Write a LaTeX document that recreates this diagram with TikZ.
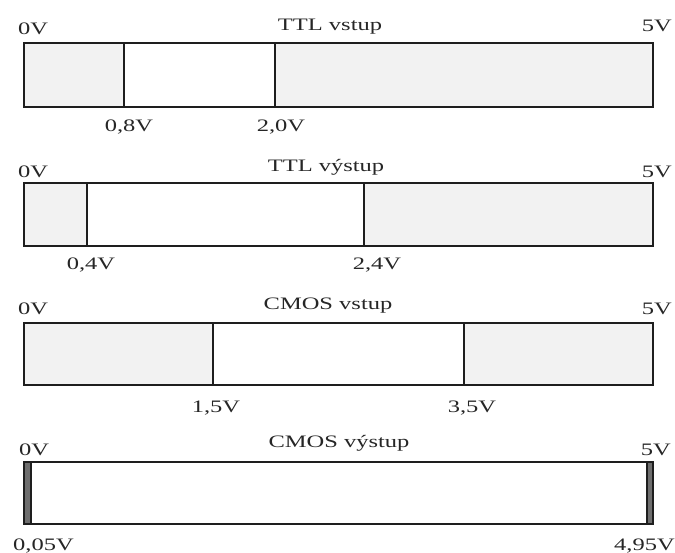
\documentclass[tikz,border=0pt]{standalone}
\usepackage{fontspec}
\setmainfont{Liberation Serif}
\definecolor{zone}{HTML}{F2F2F2}
\definecolor{strip}{HTML}{6E6E6E}
\definecolor{edge}{HTML}{1E1E1E}
\newcommand{\wtxt}[1]{\scalebox{1.4}[1]{#1}}
\begin{document}
\begin{tikzpicture}[x=1pt,y=-1pt,
  lbl/.style={inner sep=0pt,font=\fontsize{17.5}{19}\selectfont,text=black!85},
  barline/.style={draw=edge,line width=1.3pt},
  zonefill/.style={fill=zone}]
\useasboundingbox (0,0) rectangle (675,553);
% ---- TTL vstup
\fill[zonefill] (24,43) rectangle (124,107);
\fill[zonefill] (275,43) rectangle (653,107);
\draw[barline] (24,43) rectangle (653,107);
\draw[barline] (124,43) -- (124,107);
\draw[barline] (275,43) -- (275,107);
\node[lbl,anchor=base west] (a0) at (18,35) {\wtxt{0V}};
\node[lbl,anchor=base] (at) at (330,31) {\wtxt{TTL vstup}};
\node[lbl,anchor=base east] (a5) at (672,32) {\wtxt{5V}};
\node[lbl,anchor=base] (a1) at (129,132) {\wtxt{0,8V}};
\node[lbl,anchor=base] (a2) at (281,132) {\wtxt{2,0V}};
% ---- TTL vystup
\fill[zonefill] (24,183) rectangle (87,246);
\fill[zonefill] (364,183) rectangle (653,246);
\draw[barline] (24,183) rectangle (653,246);
\draw[barline] (87,183) -- (87,246);
\draw[barline] (364,183) -- (364,246);
\node[lbl,anchor=base west] (b0) at (18,178) {\wtxt{0V}};
\node[lbl,anchor=base] (bt) at (326,172) {\wtxt{TTL výstup}};
\node[lbl,anchor=base east] (b5) at (672,178) {\wtxt{5V}};
\node[lbl,anchor=base] (b1) at (91,270) {\wtxt{0,4V}};
\node[lbl,anchor=base] (b2) at (377,270) {\wtxt{2,4V}};
% ---- CMOS vstup
\fill[zonefill] (24,323) rectangle (213,385);
\fill[zonefill] (464,323) rectangle (653,385);
\draw[barline] (24,323) rectangle (653,385);
\draw[barline] (213,323) -- (213,385);
\draw[barline] (464,323) -- (464,385);
\node[lbl,anchor=base west] (c0) at (18,315) {\wtxt{0V}};
\node[lbl,anchor=base] (ct) at (328,310) {\wtxt{CMOS vstup}};
\node[lbl,anchor=base east] (c5) at (672,315) {\wtxt{5V}};
\node[lbl,anchor=base] (c1) at (216,412) {\wtxt{1,5V}};
\node[lbl,anchor=base] (c2) at (472,412) {\wtxt{3,5V}};
% ---- CMOS vystup
\fill[strip] (24,462) rectangle (31,524);
\fill[strip] (647,462) rectangle (653,524);
\draw[barline] (24,462) rectangle (653,524);
\draw[barline] (31,462) -- (31,524);
\draw[barline] (647,462) -- (647,524);
\node[lbl,anchor=base west] (d0) at (19,455) {\wtxt{0V}};
\node[lbl,anchor=base] (dt) at (339,447) {\wtxt{CMOS výstup}};
\node[lbl,anchor=base east] (d5) at (671,455) {\wtxt{5V}};
\node[lbl,anchor=base west] (d1) at (13,550) {\wtxt{0,05V}};
\node[lbl,anchor=base east] (d2) at (675,550) {\wtxt{4,95V}};
\end{tikzpicture}
\end{document}
